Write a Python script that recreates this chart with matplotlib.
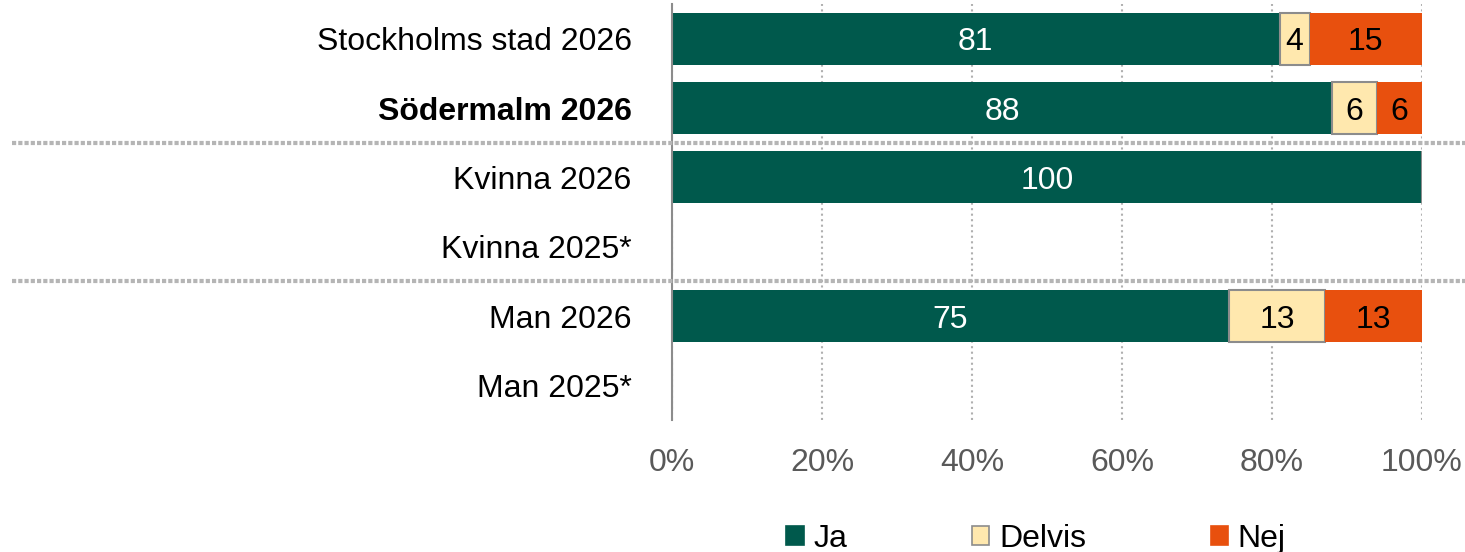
import matplotlib.pyplot as plt
import matplotlib.transforms as mtransforms
from matplotlib.patches import Patch
import numpy as np

plt.rcParams['font.family'] = ['Liberation Sans', 'DejaVu Sans']

categories = ['Stockholms stad 2026', 'Södermalm 2026', 'Kvinna 2026',
              'Kvinna 2025*', 'Man 2026', 'Man 2025*']
ja = [81, 88, 100, 0, 75, 0]
delvis = [4, 6, 0, 0, 13, 0]
nej = [15, 6, 0, 0, 13, 0]
series_names = ['Ja', 'Delvis', 'Nej']
xticks = [0, 20, 40, 60, 80, 100]
xticklabels = ['0%', '20%', '40%', '60%', '80%', '100%']

colors = ['#00594C', '#FFE8AE', '#E8500E']
edges = ['none', '#8c8c8c', 'none']
text_colors = ['white', 'black', 'black']
fs = 23

fig = plt.figure(figsize=(14.65, 5.52), dpi=100)
ax = fig.add_axes([672 / 1465, 1 - 420 / 552, 750 / 1465, 416 / 552])

y = np.arange(len(categories))
vals = np.array([ja, delvis, nej], dtype=float)
totals = vals.sum(axis=0)
share = np.divide(vals * 100, totals, out=np.zeros_like(vals), where=totals > 0)

left = np.zeros(len(categories))
for i, name in enumerate(series_names):
    bars = ax.barh(y, share[i], left=left, height=0.75, color=colors[i],
                   edgecolor=edges[i], linewidth=1.5, label=name, zorder=3)
    for j, b in enumerate(bars):
        if vals[i, j] > 0:
            ax.text(left[j] + share[i, j] / 2, y[j], f'{vals[i, j]:.0f}',
                    ha='center', va='center_baseline', fontsize=fs,
                    color=text_colors[i], zorder=4)
    left += share[i]

ax.set_ylim(len(categories) - 0.5, -0.5)
ax.set_xlim(0, 100)
ax.set_yticks(y)
ax.set_yticklabels(categories, fontsize=fs, color='black', va='center_baseline')
ax.get_yticklabels()[1].set_fontweight('bold')
ax.set_xticks(xticks)
ax.set_xticklabels(xticklabels, fontsize=fs, color='#595959')
ax.tick_params(axis='y', length=0, pad=29)
ax.tick_params(axis='x', length=0, pad=20)

for s in ['top', 'right', 'bottom']:
    ax.spines[s].set_visible(False)
ax.spines['left'].set_color('#8c8c8c')
ax.spines['left'].set_linewidth(1.5)
ax.spines['left'].set_zorder(5)
ax.xaxis.grid(True, linestyle=':', color='#b0b0b0', linewidth=1.5, zorder=0)

# group separators across the label column
trans = mtransforms.blended_transform_factory(fig.transFigure, ax.transData)
for sep in [1.5, 3.5]:
    ax.plot([12 / 1465, 1.0], [sep, sep], transform=trans, clip_on=False,
            color='#b5b5b5', linestyle=(0, (1, 0.5)), linewidth=3, zorder=6)

handles = [Patch(facecolor=colors[i], edgecolor=edges[i] if edges[i] != 'none' else colors[i],
                 linewidth=1.2) for i in range(3)]
fig.legend(handles, series_names, loc='center', bbox_to_anchor=(1036 / 1465, 1 - 539 / 552),
           ncol=3, frameon=False, fontsize=fs, handlelength=0.55, handleheight=0.55,
           handletextpad=0.3, columnspacing=3.9)

fig.savefig('out.png', dpi=100)
